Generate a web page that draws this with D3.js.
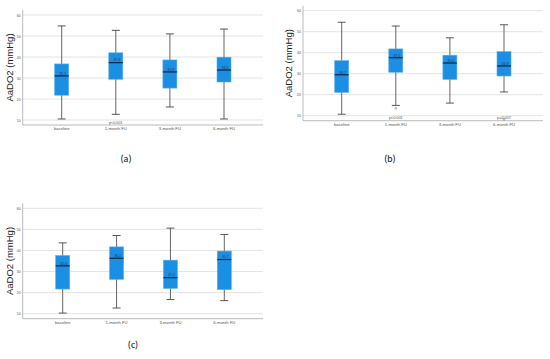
<!DOCTYPE html>
<html><head><meta charset="utf-8">
<script src="https://cdn.jsdelivr.net/npm/d3@7"></script>
<style>body{margin:0;background:#fff}svg{display:block}</style>
</head><body>
<script>
const categories = ["baseline", "1-month FU", "3-month FU", "6-month FU"];
const yTicks = [10, 20, 30, 40, 50, 60];
// [whiskerLow, q1, median, q3, whiskerHigh]
const statsA = [[10.5, 21.8, 31.0, 36.7, 54.8], [12.7, 29.4, 37.3, 42.0, 52.7], [16.2, 25.2, 32.9, 38.6, 51.0], [10.5, 28.1, 33.8, 39.9, 53.3]];
const statsB = [[10.7, 21.1, 29.5, 36.2, 54.5], [14.9, 30.7, 37.6, 41.8, 52.7], [16.0, 27.3, 35.1, 38.8, 47.1], [21.3, 28.9, 33.7, 40.5, 53.3]];
const statsC = [[10.3, 21.7, 32.7, 37.6, 43.6], [12.7, 26.3, 36.3, 41.7, 47.1], [16.7, 22.0, 27.1, 35.4, 50.6], [16.2, 21.4, 35.7, 39.7, 47.6]];
const meanLabelsA = ["31.1", "37.3", "32.9", "34.0"];
const meanLabelsB = ["30.1", "37.5", "35.0", "33.9"];
const meanLabelsC = ["32.6", "36.2", "27.1", "35.7"];
const pLabelsA = ["", "p<0.001", "", ""];
const pLabelsB = ["", "p<0.001", "", "p=0.007"];
const pLabelsC = ["", "", "", ""];
const outliersB = [[], [13.5], [], [8.2]];
const panelLetters = ["(a)", "(b)", "(c)"];

const W = 550, H = 359;
const svg = d3.select("body").append("svg").attr("width", W).attr("height", H);

const panels = [
  {stats: statsA, means: meanLabelsA, p: pLabelsA, out: null, x0: 22.7, x1: 263, yTop: 15, yBot: 120, axisY: 125, c0: 61.7, c1: 224, titleX: 12.5, letter: panelLetters[0], lx: 126, ly: 162},
  {stats: statsB, means: meanLabelsB, p: pLabelsB, out: outliersB, x0: 303, x1: 543, yTop: 10.7, yBot: 115.7, axisY: 120.7, c0: 341.7, c1: 504, titleX: 291.5, letter: panelLetters[1], lx: 390, ly: 162},
  {stats: statsC, means: meanLabelsC, p: pLabelsC, out: null, x0: 22.7, x1: 263, yTop: 208.3, yBot: 313.7, axisY: 318.7, c0: 62.7, c1: 224.3, titleX: 12.5, letter: panelLetters[2], lx: 133, ly: 348}
];

panels.forEach(P => {
  const g = svg.append("g");
  const y = d3.scaleLinear().domain([10, 60]).range([P.yBot, P.yTop]);
  const x = d3.scalePoint().domain(categories).range([P.c0, P.c1]);

  g.selectAll(".grid").data(yTicks).join("line")
    .attr("x1", P.x0).attr("x2", P.x1)
    .attr("y1", d => y(d)).attr("y2", d => y(d))
    .attr("stroke", "#dcdcdc").attr("stroke-width", 0.8);

  const ya = g.append("g").attr("transform", `translate(${P.x0},0)`)
    .call(d3.axisLeft(y).tickValues(yTicks).tickSize(0).tickPadding(2));
  ya.select(".domain").attr("stroke", "#aaa").attr("stroke-width", 0.8)
    .attr("d", `M0,${P.yTop - 5}V${P.axisY}`);
  ya.selectAll("text").attr("font-size", 3.5).attr("fill", "#555").attr("font-family", "Arial, Liberation Sans");

  g.append("line").attr("x1", P.x0).attr("x2", P.x1).attr("y1", P.axisY).attr("y2", P.axisY)
    .attr("stroke", "#aaa").attr("stroke-width", 0.8);
  g.selectAll(".xl").data(categories).join("text")
    .attr("x", d => x(d)).attr("y", P.axisY + 5)
    .attr("text-anchor", "middle").attr("font-size", 4.2).attr("fill", "#555")
    .attr("font-family", "Arial, Liberation Sans").text(d => d);

  g.append("text").attr("transform", `translate(${P.titleX},${(P.yTop + P.yBot) / 2}) rotate(-90)`)
    .attr("text-anchor", "middle").attr("font-size", 9.5).attr("fill", "#222")
    .attr("font-family", "Arial, Liberation Sans").text("AaDO2 (mmHg)");

  const bw = 14, cap = 8;
  const boxes = g.selectAll(".box").data(P.stats.map((s, i) => ({s, c: categories[i], i}))).join("g");
  boxes.append("line").attr("x1", d => x(d.c)).attr("x2", d => x(d.c))
    .attr("y1", d => y(d.s[0])).attr("y2", d => y(d.s[4]))
    .attr("stroke", "#555").attr("stroke-width", 0.9);
  boxes.append("line").attr("x1", d => x(d.c) - cap / 2).attr("x2", d => x(d.c) + cap / 2)
    .attr("y1", d => y(d.s[0])).attr("y2", d => y(d.s[0])).attr("stroke", "#444").attr("stroke-width", 0.9);
  boxes.append("line").attr("x1", d => x(d.c) - cap / 2).attr("x2", d => x(d.c) + cap / 2)
    .attr("y1", d => y(d.s[4])).attr("y2", d => y(d.s[4])).attr("stroke", "#444").attr("stroke-width", 0.9);
  boxes.append("rect").attr("x", d => x(d.c) - bw / 2).attr("width", bw)
    .attr("y", d => y(d.s[3])).attr("height", d => y(d.s[1]) - y(d.s[3]))
    .attr("fill", "#1a8fe3").attr("stroke", "#5aaee8").attr("stroke-width", 0.6);
  boxes.append("line").attr("x1", d => x(d.c) - bw / 2).attr("x2", d => x(d.c) + bw / 2)
    .attr("y1", d => y(d.s[2])).attr("y2", d => y(d.s[2]))
    .attr("stroke", "#14233a").attr("stroke-width", 1.2);
  boxes.append("text").attr("x", d => x(d.c) + 1).attr("y", d => y(d.s[2]) - 1.2)
    .attr("text-anchor", "middle").attr("font-size", 3.5).attr("fill", "#1b3a5a")
    .attr("font-family", "Arial, Liberation Sans").text(d => P.means[d.i]);
  boxes.append("text").attr("x", d => x(d.c)).attr("y", d => P.axisY - 1.5)
    .attr("text-anchor", "middle").attr("font-size", 3.8).attr("fill", "#555")
    .attr("font-family", "Arial, Liberation Sans").text(d => P.p[d.i]);
  if (P.out) {
    categories.forEach((c, i) => {
      g.selectAll(null).data(P.out[i]).join("circle")
        .attr("cx", x(c)).attr("cy", d => y(d)).attr("r", 0.9)
        .attr("fill", "none").attr("stroke", "#666").attr("stroke-width", 0.5);
    });
  }

  svg.append("text").attr("x", P.lx).attr("y", P.ly).attr("text-anchor", "middle")
    .attr("font-size", 10).attr("fill", "#111").attr("font-family", "Carlito, Open Sans, Liberation Sans, Arial")
    .text(P.letter);
});
</script>
</body></html>
